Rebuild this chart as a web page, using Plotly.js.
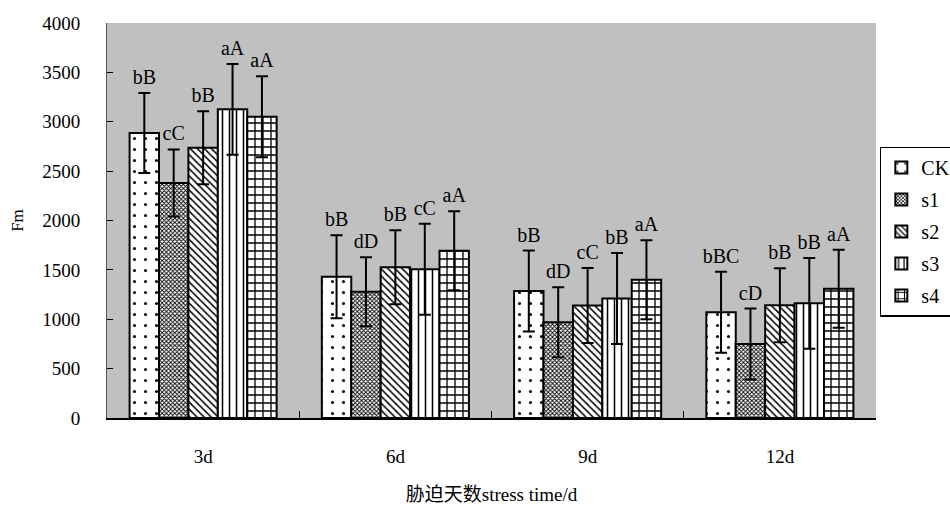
<!DOCTYPE html>
<html><head><meta charset="utf-8">
<script src="https://cdn.plot.ly/plotly-3.0.1.min.js"></script>
<style>body{margin:0;background:#fff}#c{width:950px;height:509px}</style>
</head><body><div id="c"></div>
<script>
const categories = ['3d','6d','9d','12d'];
const seriesNames = ['CK','s1','s2','s3','s4'];
const values = {
  CK: [2886, 1431, 1286, 1070],
  s1: [2380, 1279, 970, 749],
  s2: [2737, 1526, 1140, 1141],
  s3: [3126, 1506, 1210, 1161],
  s4: [3051, 1694, 1400, 1310]
};
const errors = {
  CK: [405, 420, 410, 410],
  s1: [340, 350, 355, 360],
  s2: [370, 375, 380, 375],
  s3: [460, 460, 460, 460],
  s4: [410, 400, 400, 395]
};
const letters = {
  CK: ['bB','bB','bB','bBC'],
  s1: ['cC','dD','dD','cD'],
  s2: ['bB','bB','cC','bB'],
  s3: ['aA','cC','bB','bB'],
  s4: ['aA','aA','aA','aA']
};
const shapes = {CK:'.', s1:'x', s2:'\\', s3:'|', s4:'+'};
const psize = {CK:11, s1:3, s2:5, s3:7, s4:8};
const psol = {CK:0.06, s1:0.5, s2:0.3, s3:0.22, s4:0.3};

const barW = 0.153;
const font = "'Liberation Serif','Noto Sans CJK SC',serif";
const traces = [];
seriesNames.forEach((s, k) => {
  const xs = categories.map((c, i) => i + (k - 2) * barW);
  traces.push({
    type: 'bar', name: s, legendgroup: s, x: xs, y: values[s], width: barW,
    marker: {color: '#ffffff', line: {color: '#000', width: 2},
      pattern: {shape: shapes[s], fgcolor: '#000', bgcolor: '#fff', size: psize[s], solidity: psol[s]}},
    error_y: {type: 'data', array: errors[s], visible: true, color: '#000', thickness: 2, width: 6}
  });
});
seriesNames.forEach((s, k) => {
  const xs = categories.map((c, i) => i + (k - 2) * barW);
  traces.push({
    type: 'scatter', mode: 'text', showlegend: false, hoverinfo: 'skip',
    x: xs, y: values[s].map((v, i) => v + errors[s][i] + 40),
    text: letters[s], textposition: 'top center',
    textfont: {family: font, size: 20, color: '#000'}
  });
});

const layout = {
  width: 950, height: 509,
  margin: {l: 107, r: 74, t: 23, b: 91, autoexpand: false},
  paper_bgcolor: '#fff', plot_bgcolor: '#c0c0c0',
  barmode: 'overlay', bargap: 0,
  font: {family: font, size: 19, color: '#000'},
  xaxis: {
    range: [-0.5, 3.5], tickmode: 'array', tickvals: categories.map((c, i) => i), ticktext: categories,
    ticks: '', showline: true, linecolor: '#000', linewidth: 2, showgrid: false, zeroline: false,
    minor: {tickmode: 'array', tickvals: [0.5, 1.5, 2.5], ticks: 'inside', ticklen: 7, tickcolor: '#000', tickwidth: 1},
    tickfont: {size: 19}, ticklabelstandoff: 20, automargin: false,
    title: {text: '胁迫天数stress time/d', font: {size: 19}, standoff: 22}
  },
  yaxis: {
    range: [0, 4000], tickvals: [0,500,1000,1500,2000,2500,3000,3500,4000],
    ticks: 'inside', ticklen: 6, tickcolor: '#000', showline: true, linecolor: '#555', linewidth: 1,
    showgrid: false, zeroline: false, tickfont: {size: 19}, ticklabelstandoff: 22, automargin: false,
    title: {text: 'Fm', font: {size: 17}, standoff: 14}
  },
  legend: {
    x: 1.005, xanchor: 'left', y: 0.472, yanchor: 'middle',
    bgcolor: '#fff', bordercolor: '#000', borderwidth: 1.5,
    font: {size: 20}, itemwidth: 30, tracegroupgap: 3
  },
  showlegend: true
};
Plotly.newPlot('c', traces, layout, {displayModeBar: false, staticPlot: true});
</script></body></html>
